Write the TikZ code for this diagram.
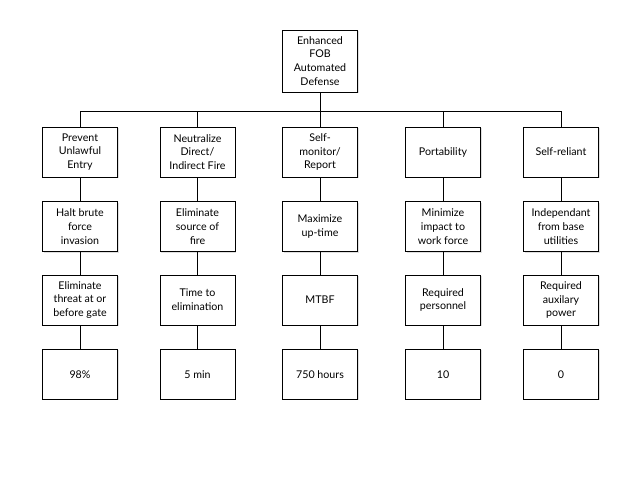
\documentclass[tikz,border=0pt]{standalone}
\usepackage{fontspec}
\setmainfont{Lato}
\usetikzlibrary{shadows}
\begin{document}
\begin{tikzpicture}[x=0.75pt,y=-0.75pt,
	goalbox/.style={rectangle,draw=black,fill=white,line width=0.7pt,minimum width=56.25pt,minimum height=37.5pt,
		inner sep=1pt,align=center,font=\fontsize{8}{10.4}\selectfont,
		drop shadow={shadow xshift=0.8pt,shadow yshift=-0.8pt,fill=black!25}},
	rootbox/.style={goalbox,minimum height=46.5pt},
	link/.style={-,line width=0.7pt}]
	\useasboundingbox (0,0) rectangle (640,480);
	% top of the tree
	\node[rootbox] (root) at (320,61) {Enhanced\\FOB\\Automated\\Defense};
	\coordinate (bus) at (320,111);
	% first level
	\node[goalbox] (a1) at (80,152) {Prevent\\Unlawful\\Entry};
	\node[goalbox] (a2) at (197.5,152) {Neutralize\\Direct/\\Indirect Fire};
	\node[goalbox] (a3) at (320,152) {Self-\\monitor/\\Report};
	\node[goalbox] (a4) at (443,152) {Portability};
	\node[goalbox] (a5) at (561,152) {Self-reliant};
	% second level
	\node[goalbox] (b1) at (80,226.5) {Halt brute\\force\\invasion}
		edge[link] (a1);
	\node[goalbox] (b2) at (197.5,226.5) {Eliminate\\source of\\fire}
		edge[link] (a2);
	\node[goalbox] (b3) at (320,226.5) {Maximize\\up-time}
		edge[link] (a3);
	\node[goalbox] (b4) at (443,226.5) {Minimize\\impact to\\work force}
		edge[link] (a4);
	\node[goalbox] (b5) at (561,226.5) {Independant\\from base\\utilities}
		edge[link] (a5);
	% measures
	\node[goalbox] (c1) at (80,300) {Eliminate\\threat at or\\before gate}
		edge[link] (b1);
	\node[goalbox] (c2) at (197.5,300) {Time to\\elimination}
		edge[link] (b2);
	\node[goalbox] (c3) at (320,300) {MTBF}
		edge[link] (b3);
	\node[goalbox] (c4) at (443,300) {Required\\personnel}
		edge[link] (b4);
	\node[goalbox] (c5) at (561,300) {Required\\auxilary\\power}
		edge[link] (b5);
	% target values
	\node[goalbox] (d1) at (80,374.3) {98\%}
		edge[link] (c1);
	\node[goalbox] (d2) at (197.5,374.3) {5 min}
		edge[link] (c2);
	\node[goalbox] (d3) at (320,374.3) {750 hours}
		edge[link] (c3);
	\node[goalbox] (d4) at (443,374.3) {10}
		edge[link] (c4);
	\node[goalbox] (d5) at (561,374.3) {0}
		edge[link] (c5);
	% branches from the top
	\draw[link] (root) -- (bus);
	\foreach \n in {a1,a2,a3,a4,a5}
		\draw[link] (bus) -| (\n.north);
\end{tikzpicture}
\end{document}
